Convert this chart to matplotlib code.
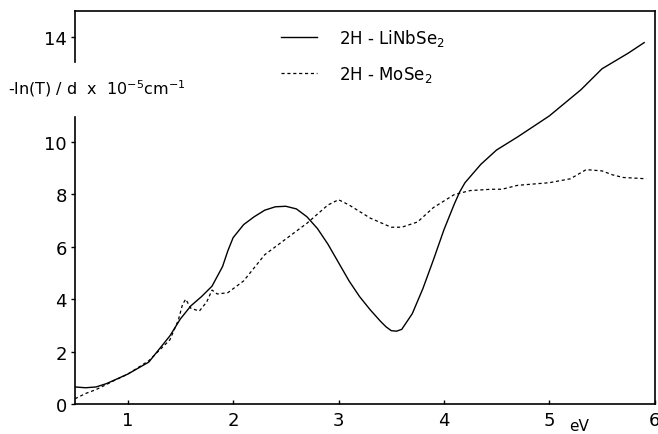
import matplotlib
matplotlib.use("Agg")
import matplotlib.pyplot as plt

# photon energy (eV) and absorption for each sample
x_linbse2 = [0.5, 0.6, 0.7, 0.8, 1.0, 1.2, 1.4, 1.5, 1.6, 1.7, 1.8, 1.9, 1.95,
             2.0, 2.1, 2.2, 2.3, 2.4, 2.5, 2.6, 2.7, 2.8, 2.9, 3.0, 3.1, 3.2,
             3.3, 3.4, 3.45, 3.5, 3.55, 3.6, 3.7, 3.8, 3.9, 4.0, 4.1, 4.15,
             4.2, 4.35, 4.5, 4.7, 5.0, 5.3, 5.5, 5.75, 5.9]
y_linbse2 = [0.65, 0.62, 0.65, 0.78, 1.14, 1.6, 2.6, 3.25, 3.75, 4.1, 4.5,
             5.25, 5.85, 6.35, 6.85, 7.15, 7.4, 7.53, 7.55, 7.45, 7.15, 6.7,
             6.1, 5.4, 4.7, 4.1, 3.6, 3.15, 2.95, 2.8, 2.78, 2.85, 3.45, 4.4,
             5.5, 6.65, 7.65, 8.1, 8.45, 9.15, 9.7, 10.2, 11.0, 12.0, 12.8,
             13.4, 13.8]

x_mose2 = [0.5, 0.6, 0.7, 0.8, 0.9, 1.0, 1.2, 1.4, 1.48, 1.52, 1.55, 1.6,
           1.68, 1.75, 1.8, 1.85, 1.95, 2.1, 2.3, 2.5, 2.7, 2.9, 3.0, 3.1,
           3.3, 3.5, 3.6, 3.75, 3.9, 4.1, 4.25, 4.45, 4.55, 4.7, 5.0, 5.2,
           5.35, 5.5, 5.6, 5.7, 5.92]
y_mose2 = [0.2, 0.4, 0.55, 0.75, 0.95, 1.14, 1.65, 2.45, 3.2, 3.8, 4.0, 3.65,
           3.55, 3.9, 4.35, 4.2, 4.25, 4.7, 5.7, 6.3, 6.9, 7.6, 7.8, 7.6,
           7.1, 6.75, 6.75, 6.95, 7.5, 8.0, 8.15, 8.2, 8.2, 8.35, 8.45, 8.6,
           8.95, 8.9, 8.75, 8.65, 8.6]

x_ticks = [1, 2, 3, 4, 5, 6]
y_ticks = [0, 2, 4, 6, 8, 10, 14]

fig = plt.figure(figsize=(6.58, 4.35), dpi=100)
ax = fig.add_axes([0.114, 0.069, 0.881, 0.903])

ax.plot(x_linbse2, y_linbse2, color='k', lw=1.0, label='2H - LiNbSe$_2$')
ax.plot(x_mose2, y_mose2, color='k', lw=0.9, ls=(0, (2.5, 2.2)),
        label='2H - MoSe$_2$')

ax.set_xlim(0.5, 6)
ax.set_ylim(0, 15)
ax.set_xticks(x_ticks)
ax.set_yticks(y_ticks)
ax.tick_params(axis='x', direction='in', length=3, width=1, labelsize=13, pad=5)
ax.tick_params(axis='y', direction='out', length=3, width=1, labelsize=13, pad=3)

for s in ['top', 'right', 'bottom']:
    ax.spines[s].set_linewidth(1.2)
# left spine has a gap where the quantity label sits
ax.spines['left'].set_visible(False)
ax.plot([0, 0], [0, 0.730], transform=ax.transAxes, color='k', lw=1.2, clip_on=False)
ax.plot([0, 0], [0.870, 1], transform=ax.transAxes, color='k', lw=1.2, clip_on=False)

fig.text(0.012, 0.796, '-ln(T) / d  x  10$^{-5}$cm$^{-1}$', fontsize=11.5, va='center')

ax.set_xlabel('eV', fontsize=11)
ax.xaxis.set_label_coords(0.87, -0.035)

ax.legend(loc='upper left', bbox_to_anchor=(0.355, 0.96), frameon=False,
          fontsize=12, handlelength=2.2, handletextpad=1.3, labelspacing=0.95,
          borderpad=0, borderaxespad=0)

fig.savefig('out.png', dpi=100)
